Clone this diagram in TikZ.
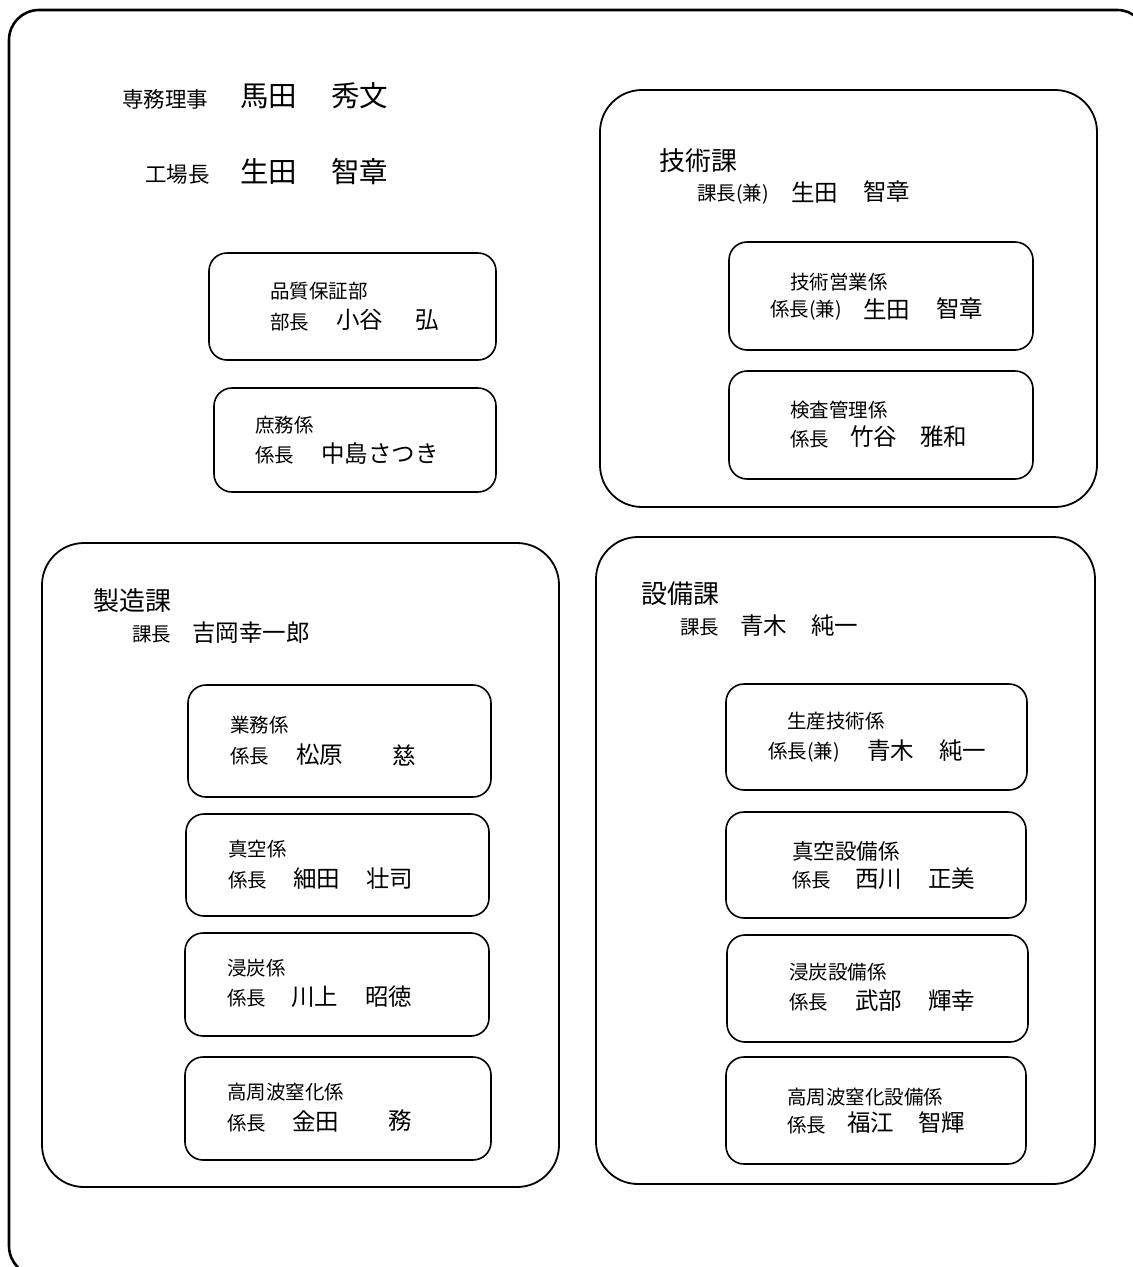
\documentclass[tikz,border=0pt]{standalone}
\usepackage{fontspec}
\setmainfont{Noto Sans CJK JP}
\tikzset{
  frame/.style={line width=2.6pt, rounded corners=30pt},
  sect/.style={line width=1.8pt, rounded corners=42pt},
  box/.style={line width=1.6pt, rounded corners=18pt},
  lbl/.style={anchor=west, inner sep=0pt, font=\fontsize{19.5}{22}\selectfont},
  nm/.style={anchor=west, inner sep=0pt, font=\fontsize{23.5}{27}\selectfont},
  ttl/.style={anchor=west, inner sep=0pt, font=\fontsize{26}{30}\selectfont},
  toplbl/.style={anchor=west, inner sep=0pt, font=\fontsize{21.5}{25}\selectfont},
  topnm/.style={anchor=west, inner sep=0pt, font=\fontsize{28.5}{32}\selectfont}
}
\begin{document}
\begin{tikzpicture}[x=1pt,y=-1pt]
  \clip (0,0) rectangle (1133,1267);
  \useasboundingbox (0,0) rectangle (1133,1267);
  % outer frame
  \draw[frame] (9,10) rectangle (1147,1276);

  % top
  \node[toplbl] (senmu) at (122,99) {専務理事};
  \node[topnm] (senmuA) at (240,96) {馬田};
  \node[topnm] (senmuB) at (331,96) {秀文};
  \node[toplbl] (kojo) at (145,174) {工場長};
  \node[topnm] (kojoA) at (240,172) {生田};
  \node[topnm] (kojoB) at (331,172) {智章};

  % quality, general affairs
  \draw[box] (209,253) rectangle (496,360);
  \node[lbl] (hinshitsu) at (270,291) {品質保証部};
  \node[lbl] (hinshitsuR) at (270,322) {部長};
  \node[nm] (hinshitsuA) at (336,320) {小谷};
  \node[nm] (hinshitsuB) at (415,320) {弘};
  \draw[box] (214,388) rectangle (496,492);
  \node[lbl] (shomu) at (255,425) {庶務係};
  \node[lbl] (shomuR) at (255,455) {係長};
  \node[nm] (shomuA) at (321,454) {中島さつき};

  % gijutsu
  \draw[sect] (600,90) rectangle (1097,507);
  \node[ttl] (gijutsu) at (659,161) {技術課};
  \node[lbl] (gijutsuR) at (697,194) {課長(兼)};
  \node[nm] (gijutsuA) at (791,192) {生田};
  \node[nm] (gijutsuB) at (863,192) {智章};
  \draw[box] (729,242) rectangle (1033,350);
  \node[lbl] (eigyo) at (790,282) {技術営業係};
  \node[lbl] (eigyoR) at (770,310) {係長(兼)};
  \node[nm] (eigyoA) at (863,309) {生田};
  \node[nm] (eigyoB) at (936,309) {智章};
  \draw[box] (729,371) rectangle (1033,479);
  \node[lbl] (kensa) at (790,410) {検査管理係};
  \node[lbl] (kensaR) at (790,439) {係長};
  \node[nm] (kensaA) at (850,437) {竹谷};
  \node[nm] (kensaB) at (920,437) {雅和};

  % seizo
  \draw[sect] (42,543) rectangle (559,1187);
  \node[ttl] (seizo) at (93,601) {製造課};
  \node[lbl] (seizoR) at (132,634) {課長};
  \node[nm] (seizoA) at (192,633) {吉岡幸一郎};
  \draw[box] (188,685) rectangle (491,797);
  \node[lbl] (gyomu) at (230,725) {業務係};
  \node[lbl] (gyomuR) at (230,756) {係長};
  \node[nm] (gyomuA) at (296,755) {松原};
  \node[nm] (gyomuB) at (392,755) {慈};
  \draw[box] (186,814) rectangle (489,916);
  \node[lbl] (shinku) at (228,849) {真空係};
  \node[lbl] (shinkuR) at (228,880) {係長};
  \node[nm] (shinkuA) at (293,879) {細田};
  \node[nm] (shinkuB) at (366,879) {壮司};
  \draw[box] (185,933) rectangle (489,1036);
  \node[lbl] (shintan) at (227,968) {浸炭係};
  \node[lbl] (shintanR) at (227,998) {係長};
  \node[nm] (shintanA) at (291,997) {川上};
  \node[nm] (shintanB) at (365,997) {昭徳};
  \draw[box] (185,1057) rectangle (491,1160);
  \node[lbl] (koshu) at (227,1092) {高周波窒化係};
  \node[lbl] (koshuR) at (227,1123) {係長};
  \node[nm] (koshuA) at (292,1121) {金田};
  \node[nm] (koshuB) at (388,1121) {務};

  % setsubi
  \draw[sect] (596,537) rectangle (1095,1184);
  \node[ttl] (setsubi) at (641,594) {設備課};
  \node[lbl] (setsubiR) at (680,627) {課長};
  \node[nm] (setsubiA) at (740,626) {青木};
  \node[nm] (setsubiB) at (811,626) {純一};
  \draw[box] (726,684) rectangle (1027,790);
  \node[lbl] (seisan) at (787,721) {生産技術係};
  \node[lbl] (seisanR) at (768,752) {係長(兼)};
  \node[nm] (seisanA) at (867,751) {青木};
  \node[nm] (seisanB) at (939,751) {純一};
  \draw[box] (726,812) rectangle (1026,918);
  \node[lbl, font=\fontsize{21.5}{25}\selectfont] (shinkuS) at (792,851) {真空設備係};
  \node[lbl] (shinkuSR) at (792,880) {係長};
  \node[nm] (shinkuSA) at (855,879) {西川};
  \node[nm] (shinkuSB) at (928,879) {正美};
  \draw[box] (727,935) rectangle (1028,1042);
  \node[lbl] (shintanS) at (789,972) {浸炭設備係};
  \node[lbl] (shintanSR) at (789,1002) {係長};
  \node[nm] (shintanSA) at (855,1001) {武部};
  \node[nm] (shintanSB) at (928,1001) {輝幸};
  \draw[box] (726,1057) rectangle (1026,1164);
  \node[lbl] (koshuS) at (787,1097) {高周波窒化設備係};
  \node[lbl] (koshuSR) at (787,1125) {係長};
  \node[nm] (koshuSA) at (847,1123) {福江};
  \node[nm] (koshuSB) at (918,1123) {智輝};
\end{tikzpicture}
\end{document}
